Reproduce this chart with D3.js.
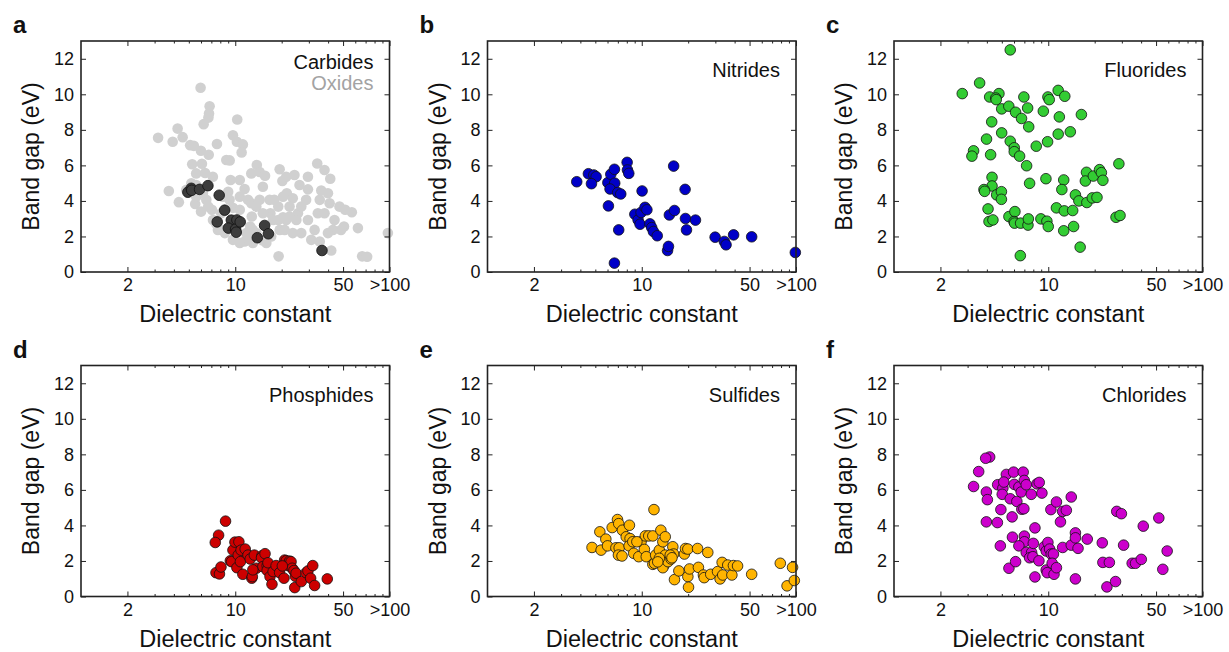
<!DOCTYPE html>
<html>
<head>
<meta charset="utf-8">
<script src="https://cdn.jsdelivr.net/npm/d3@7/dist/d3.min.js"></script>
<style>
    body { margin: 0; background: #fff; }
    svg { display: block; font-family: Arial, "Liberation Sans", Helvetica, sans-serif; }
</style>
</head>
<body>
<div id="chart"></div>
<script>
// 数据: [介电常数, 带隙 eV]
var carbides = [[4.93,4.49],[5.19,4.71],[5.22,4.6],[5.87,4.65],[6.65,4.86],[7.87,4.32],[8.54,3.48],[7.64,2.82],
    [9.43,2.92],[9.02,2.47],[10.25,2.93],[10.05,2.41],[10.15,2.24],[10.77,2.82],[13.9,1.93],[15.5,2.62],[16.4,2.15],[36.5,1.21]];

var oxides = [[5.96,10.37],[6.82,9.33],[6.76,8.92],[6.7,8.69],[6.24,8.32],[4.23,8.07],[3.16,7.55],[3.93,7.33],[4.56,7.59],
    [5.1,7.14],[5.39,7.1],[5.99,6.82],[6.73,6.6],[7.61,7.2],[9.66,7.7],[10.3,8.58],[10.25,7.33],[11.2,7.18],[11.0,6.73],
    [5.26,6.06],[6.08,6.09],[3.71,4.56],[4.31,3.93],[5.58,5.55],[6.38,5.57],[7.16,5.36],[5.5,3.83],[6.0,3.4],[7.06,3.5],
    [7.53,2.71],[7.9,2.41],[9.0,4.52],[9.33,5.18],[8.75,6.3],[9.2,6.28],[10.7,5.18],[11.5,4.67],[10.7,4.24],[12.1,4.06],
    [12.7,3.87],[12.7,5.55],[13.8,6.02],[14.4,5.63],[15.6,5.42],[15.1,4.8],[16.7,4.06],[16.9,3.31],[17.9,4.06],[19.4,5.78],
    [20.2,5.12],[21.4,5.36],[24.2,5.46],[26.1,4.9],[21.6,4.43],[23.6,4.15],[25.5,3.31],[22.5,3.12],[20.4,3.08],[19.0,2.93],
    [17.6,2.93],[19.4,2.37],[20.9,2.37],[23.6,2.19],[26.8,3.68],[28.8,4.06],[29.6,4.65],[29.6,5.36],[34.0,6.11],[37.9,5.74],
    [41.3,5.25],[36.1,4.58],[35.3,4.06],[40.9,3.87],[47.4,3.68],[51.6,3.5],[57.0,3.36],[50.7,2.56],[48.5,2.37],[43.0,2.37],
    [39.9,2.19],[41.9,1.21],[35.3,1.72],[31.1,1.81],[26.8,2.19],[62.4,2.47],[66.5,0.88],[71.6,0.86],[97.6,2.19],[19.1,0.88],
    [13.0,1.63],[11.5,1.72],[9.19,4.06],[9.66,3.61],[8.32,4.24],[12.8,3.12],[12.5,2.56],[11.8,2.19],[10.7,3.5],[4.81,4.62],
    [5.58,4.9],[6.17,4.43],[6.49,4.06],[6.68,3.68],[7.17,2.93],[5.19,4.99],[5.58,4.24],[15.0,1.78],[10.7,1.63],[13.7,2.19],
    [8.11,3.31],[7.72,2.37],[8.57,2.19],[9.66,1.81],[12.1,2.0],[13.0,2.37],[15.9,1.63],[17.1,2.0],[13.7,3.68],[15.1,3.31],
    [14.4,4.06],[20.4,4.24],[19.0,3.68],[22.5,3.68],[21.4,2.93],[24.9,2.93],[29.6,2.93],[32.7,2.37],[34.3,3.31],[37.9,3.31],
    [44.0,2.93],[39.9,4.43]];

var nitrides = [[3.79,5.08],[4.51,5.53],[4.89,5.46],[5.06,5.36],[4.72,4.97],[6.03,5.03],[6.3,5.5],[6.65,5.78],[6.68,5.0],
    [6.23,4.67],[6.98,4.47],[7.31,4.39],[8.04,6.17],[8.08,5.74],[8.24,5.55],[6.08,3.72],[7.09,2.37],[6.65,0.5],[10.05,4.56],
    [9.02,3.25],[9.47,2.93],[9.75,2.69],[9.9,3.35],[10.5,3.64],[10.8,3.5],[11.3,2.71],[11.6,2.5],[11.9,2.28],[12.6,2.04],
    [14.7,1.21],[14.9,1.44],[15.1,3.21],[16.1,5.96],[16.3,3.46],[19.1,4.65],[19.2,3.01],[19.5,2.37],[22.3,2.92],[29.9,1.96],
    [34.3,1.72],[35.2,1.53],[39.4,2.09],[51.6,1.98],[99,1.1]];

var fluorides = [[5.67,12.5],[2.77,10.04],[3.59,10.64],[4.17,9.85],[4.79,10.04],[4.57,9.79],[4.6,9.7],[4.99,9.18],[5.55,9.33],
    [4.3,8.45],[6.14,8.99],[6.95,9.85],[7.35,9.23],[6.71,8.64],[7.47,8.17],[4.99,7.83],[3.98,7.48],[3.28,6.82],[3.2,6.52],
    [4.23,6.6],[5.67,7.36],[6.02,6.99],[6.02,6.77],[6.52,6.52],[7.24,5.98],[8.36,7.08],[9.29,9.05],[9.9,7.33],[9.95,9.85],
    [10.15,9.7],[11.6,10.22],[12.8,9.89],[11.8,8.73],[11.6,7.76],[13.9,7.89],[16.4,8.86],[7.57,4.99],[9.66,5.25],[12.6,5.18],
    [12.25,4.64],[15.0,4.34],[15.8,4.0],[17.7,5.61],[17.4,5.12],[19.6,5.4],[21.5,5.76],[22.1,5.59],[22.6,5.16],[28.7,6.09],
    [27.5,3.08],[29.2,3.18],[17.8,3.91],[19.3,4.17],[20.7,4.2],[11.3,3.61],[12.7,3.44],[14.4,3.46],[12.6,2.32],[14.6,2.56],
    [16.1,1.4],[4.32,5.33],[4.32,4.84],[3.83,4.64],[3.87,4.54],[4.63,4.34],[4.97,4.52],[4.97,4.09],[4.07,3.55],[4.13,2.84],
    [4.38,2.93],[5.56,3.12],[6.08,3.4],[6.0,2.84],[6.05,2.75],[6.62,2.75],[7.39,2.64],[7.43,2.99],[8.96,2.99],[9.8,2.86],
    [10.0,2.56],[6.59,0.92]];

var phosphides = [[8.65,4.24],[7.8,3.45],[7.42,3.04],[7.5,1.34],[7.9,1.27],[8.08,1.66],[9.29,2.01],[9.66,2.61],[9.95,3.06],
    [10.56,3.08],[9.47,1.96],[10.25,1.62],[10.45,2.33],[10.8,1.96],[10.9,2.61],[11.2,1.25],[11.6,2.67],[12.1,2.33],[12.5,2.11],
    [12.8,1.03],[12.9,1.12],[13.3,2.33],[13.7,1.59],[14.9,2.29],[14.8,2.18],[15.1,1.68],[15.6,2.41],[16.1,1.74],[16.1,1.47],
    [16.3,1.9],[16.8,1.12],[17.3,0.69],[17.6,1.4],[18.4,1.74],[19.4,1.34],[20.7,1.03],[20.9,2.05],[21.4,2.01],[22.0,1.74],
    [22.5,1.99],[23.0,1.96],[23.4,1.59],[24.0,1.46],[24.5,1.14],[24.3,0.5],[24.8,1.31],[26.8,0.84],[28.8,1.34],[29.6,1.44],
    [30.8,1.03],[31.8,1.74],[32.7,0.62],[39.5,0.99],[20.2,1.72],[13.0,1.5]];

var sulfides = [[4.76,2.76],[5.35,3.64],[5.45,2.61],[5.85,3.23],[6.0,2.85],[6.43,3.88],[6.96,4.33],[7.09,4.1],[7.49,3.73],
    [6.8,2.74],[7.14,2.74],[7.06,2.33],[7.45,2.28],[7.93,3.36],[8.32,4.01],[8.4,3.26],[8.28,2.85],[8.75,3.08],[8.87,2.43],
    [9.56,2.24],[9.9,3.08],[10.4,2.65],[10.7,2.24],[10.55,3.41],[11.1,3.41],[11.8,3.41],[11.8,1.81],[12.1,1.87],[12.0,4.89],
    [12.3,2.33],[13.0,2.61],[13.3,3.73],[13.7,3.08],[14.2,3.36],[14.2,2.33],[13.9,1.74],[13.7,1.62],[14.8,1.96],[15.5,2.11],
    [15.9,2.8],[16.1,2.39],[16.3,0.95],[17.4,1.44],[18.9,2.39],[19.2,2.7],[19.9,2.67],[19.9,1.12],[20.4,1.55],[20.1,0.52],
    [23.0,2.7],[23.3,1.64],[25.1,1.21],[25.4,1.06],[26.8,2.48],[28.0,1.25],[31.0,1.4],[32.2,0.99],[33.5,1.21],[33.2,1.92],
    [36.1,1.77],[38.4,1.21],[39.3,1.74],[41.8,1.72],[51.6,1.25],[79.1,1.87],[87.5,0.6],[95,1.64],[97.5,0.9],[9.3,3.08],
    [13.0,2.15],[12.7,1.95],[15.3,2.33],[15.7,2.18]];

var chlorides = [[4.17,7.85],[3.93,7.78],[3.54,7.03],[3.28,6.19],[3.97,5.88],[4.03,5.45],[3.97,4.2],[4.68,4.16],[4.93,4.89],
    [4.89,2.85],[5.56,1.59],[6.14,1.96],[5.86,3.34],[5.83,4.48],[4.7,6.29],[5.08,6.1],[5.03,5.75],[5.35,6.87],[5.15,6.44],
    [5.67,5.5],[6.26,5.35],[5.96,7.0],[6.02,6.31],[6.45,6.16],[6.68,5.88],[6.74,4.91],[6.95,4.94],[6.88,7.0],[6.99,6.53],
    [7.2,6.29],[7.76,5.75],[8.45,6.34],[8.74,6.42],[9.1,5.82],[8.2,3.86],[7.0,3.4],[7.0,3.08],[6.45,2.85],[7.2,2.48],[7.8,2.48],
    [7.57,2.18],[7.95,2.24],[8.0,2.99],[8.7,2.01],[8.2,1.1],[9.42,2.8],[9.7,2.56],[9.95,3.04],[10.2,2.67],[10.45,2.39],
    [10.8,2.39],[9.7,1.49],[9.85,1.34],[10.6,1.87],[10.9,1.25],[11.3,1.62],[10.4,4.89],[11.3,5.32],[12.0,4.2],[12.4,4.79],
    [13.1,4.85],[12.4,2.76],[14.1,5.6],[14.1,2.89],[15.0,3.58],[15.0,3.3],[15.6,2.71],[15.0,0.99],[17.9,3.23],[22.4,3.02],
    [22.6,1.92],[24.9,1.92],[24.0,0.54],[27.3,0.84],[27.8,4.79],[29.8,4.66],[30.8,2.89],[35.0,1.87],[36.8,1.87],[40.1,2.09],
    [41.3,3.96],[52.1,4.42],[55.3,1.53],[59.0,2.56]];

// 坐标轴刻度
var xTicks = [2, 10, 50, 100];
var xTickLabels = ['2', '10', '50', '>100'];
var xMinorTicks = [3, 4, 5, 6, 7, 8, 9, 20, 30, 40, 60, 70, 80, 90];
var yTicks = [0, 2, 4, 6, 8, 10, 12];
var xDomain = [1, 100];
var yDomain = [0, 13];

;(function (win) {

    "use strict";

    //配置
    var _config = {
        svgWidth: 1229,
        svgHeight: 652,
        boxWidth: 308.5,
        boxHeight: 231,
        lefts: [81, 487.5, 894],
        tops: [41, 365.5],
        radius: 5.3,
        frameColor: '#222'
    };

    // 各子图
    var _panels = [
        {letter: 'a', series: [
            {data: oxides, fill: '#d0d0d0', stroke: 'none'},
            {data: carbides, fill: '#3d3d3d', stroke: '#111'}
        ], legend: [{text: 'Carbides', color: '#111'}, {text: 'Oxides', color: '#a3a3a3'}]},
        {letter: 'b', series: [{data: nitrides, fill: '#0000c8', stroke: '#111'}], legend: [{text: 'Nitrides', color: '#111'}]},
        {letter: 'c', series: [{data: fluorides, fill: '#33cc33', stroke: '#111'}], legend: [{text: 'Fluorides', color: '#111'}]},
        {letter: 'd', series: [{data: phosphides, fill: '#cc0000', stroke: '#111'}], legend: [{text: 'Phosphides', color: '#111'}]},
        {letter: 'e', series: [{data: sulfides, fill: '#ffb400', stroke: '#111'}], legend: [{text: 'Sulfides', color: '#111'}]},
        {letter: 'f', series: [{data: chlorides, fill: '#cc00cc', stroke: '#111'}], legend: [{text: 'Chlorides', color: '#111'}]}
    ];

    var _tool = {
        // 样式化坐标轴
        styleAxis: function (g, size) {
            g.attr('font-family', null).attr('font-size', size || null);
            g.select('.domain').remove();
            g.selectAll('.tick line').attr('stroke', _config.frameColor).attr('stroke-width', 1);
            g.selectAll('.tick text').attr('fill', '#111');
        },

        drawPanel: function (svg, p, i) {
            var W = _config.boxWidth, H = _config.boxHeight;
            var left = _config.lefts[i % 3], top = _config.tops[Math.floor(i / 3)];

            var x = d3.scaleLog().domain(xDomain).range([0, W]);
            var y = d3.scaleLinear().domain(yDomain).range([H, 0]);

            var g = svg.append('g').attr('transform', 'translate(' + left + ',' + top + ')');

            // 数据点
            p.series.forEach(function (s) {
                g.append('g').selectAll('circle')
                    .data(s.data)
                    .enter()
                    .append('circle')
                    .attr('cx', function (d) { return x(d[0]); })
                    .attr('cy', function (d) { return y(d[1]); })
                    .attr('r', _config.radius)
                    .attr('fill', s.fill)
                    .attr('stroke', s.stroke)
                    .attr('stroke-width', 0.8);
            });

            // 主刻度
            g.append('g').attr('transform', 'translate(0,' + H + ')')
                .call(d3.axisBottom(x).tickValues(xTicks).tickSizeInner(-5).tickSizeOuter(0).tickPadding(6.5)
                    .tickFormat(function (d, k) { return xTickLabels[k]; }))
                .call(_tool.styleAxis, '18px');
            g.append('g')
                .call(d3.axisTop(x).tickValues(xTicks).tickSizeInner(-5).tickSizeOuter(0).tickFormat(''))
                .call(_tool.styleAxis);
            // 次刻度
            g.append('g').attr('transform', 'translate(0,' + H + ')')
                .call(d3.axisBottom(x).tickValues(xMinorTicks).tickSizeInner(-2.5).tickSizeOuter(0).tickFormat(''))
                .call(_tool.styleAxis);
            g.append('g')
                .call(d3.axisTop(x).tickValues(xMinorTicks).tickSizeInner(-2.5).tickSizeOuter(0).tickFormat(''))
                .call(_tool.styleAxis);

            g.append('g')
                .call(d3.axisLeft(y).tickValues(yTicks).tickSizeInner(-5).tickSizeOuter(0).tickPadding(7))
                .call(_tool.styleAxis, '18px');
            g.append('g').attr('transform', 'translate(' + W + ',0)')
                .call(d3.axisRight(y).tickValues(yTicks).tickSizeInner(-5).tickSizeOuter(0).tickFormat(''))
                .call(_tool.styleAxis);

            // 边框
            g.append('rect')
                .attr('width', W).attr('height', H)
                .attr('fill', 'none')
                .attr('stroke', _config.frameColor)
                .attr('stroke-width', 1.6);

            // 轴标题
            g.append('text')
                .attr('x', W / 2).attr('y', H + 50)
                .attr('text-anchor', 'middle')
                .attr('font-size', '23.5px').attr('fill', '#111')
                .text('Dielectric constant');
            g.append('text')
                .attr('transform', 'translate(-42,' + (H / 2) + ') rotate(-90)')
                .attr('text-anchor', 'middle')
                .attr('font-size', '23px').attr('fill', '#111')
                .text('Band gap (eV)');

            // 图例文字
            var baseY = p.legend.length > 1 ? 27.5 : 36;
            p.legend.forEach(function (l, k) {
                g.append('text')
                    .attr('x', W - 16).attr('y', baseY + k * 21.5)
                    .attr('text-anchor', 'end')
                    .attr('font-size', '20px').attr('fill', l.color)
                    .text(l.text);
            });

            // 子图字母
            g.append('text')
                .attr('x', -68).attr('y', -8)
                .attr('font-size', '24px').attr('font-weight', 'bold').attr('fill', '#111')
                .text(p.letter);
        }
    };

    var svg = d3.select('#chart').append('svg')
        .attr('width', _config.svgWidth)
        .attr('height', _config.svgHeight);

    _panels.forEach(function (p, i) {
        _tool.drawPanel(svg, p, i);
    });

})(window);
</script>
</body>
</html>
